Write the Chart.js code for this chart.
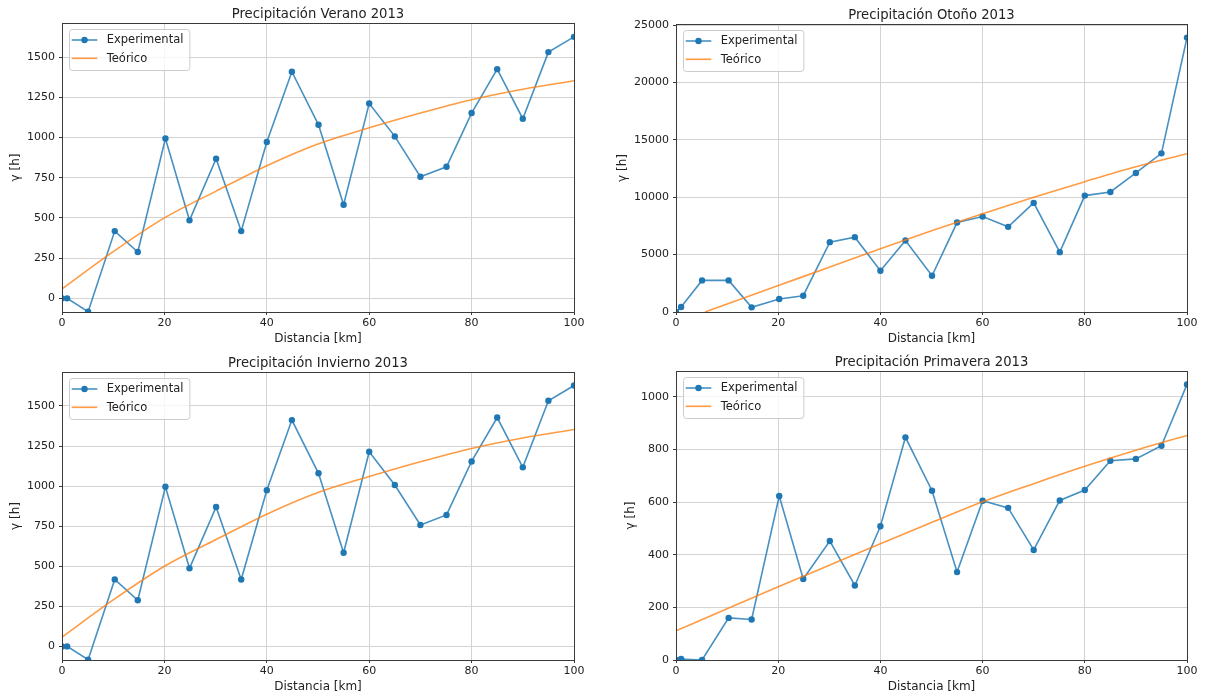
<!DOCTYPE html>
<html>
<head>
<meta charset="utf-8">
<script src="https://cdn.jsdelivr.net/npm/chart.js@4.4.0/dist/chart.umd.min.js"></script>
<style>
  html, body { margin: 0; padding: 0; background: #fff; }
  #wrap { position: relative; width: 1206px; height: 696px; }
  canvas { position: absolute; }
</style>
</head>
<body>
<div id="wrap">
  <canvas id="verano" width="603" height="348" style="left:0;top:0"></canvas>
  <canvas id="otono" width="600" height="348" style="left:606px;top:0"></canvas>
  <canvas id="invierno" width="603" height="348" style="left:0;top:348px"></canvas>
  <canvas id="primavera" width="600" height="348" style="left:606px;top:348px"></canvas>
</div>
<script>
const FONT = "'DejaVu Sans', sans-serif";
const TEXT = '#222222';
const GRID = '#d3d3d3';
const EDGE = '#3a3a3a';
const BLUE = '#1f77b4';
const BLUE_LINE = 'rgba(31,119,180,0.82)';
const ORANGE = 'rgba(255,127,14,0.78)';

// lag distances (km) of the experimental points
const distanciaKm = [0, 1, 5.1, 10.3, 14.8, 20.2, 24.9, 30.1, 35, 40, 44.9, 50.1, 55, 60, 65, 70, 75.1, 80, 85, 90, 95, 100];

const veranoExp = [0, 0, -83, 418, 288, 994, 485, 868, 418, 972, 1409, 1079, 582, 1212, 1007, 756, 818, 1152, 1425, 1117, 1531, 1626];
const inviernoExp = [0, 0, -83, 418, 288, 996, 487, 870, 417, 974, 1412, 1080, 584, 1214, 1007, 757, 820, 1154, 1428, 1117, 1533, 1628];
const otonoExp = [0, 435, 2754, 2754, 406, 1130, 1420, 6087, 6522, 3594, 6232, 3159, 7797, 8319, 7420, 9507, 5217, 10145, 10464, 12116, 13826, 23913];
const primaveraExp = [0, 4, 0, 160, 154, 623, 308, 452, 283, 508, 846, 643, 334, 605, 578, 418, 606, 646, 757, 764, 814, 1047];

// fitted model
const teoricoKm = [0, 10, 20, 30, 40, 50, 60, 70, 80, 90, 100];
const otonoTeoKm = [5.7, 10, 20, 30, 40, 50, 60, 70, 80, 90, 100];
const veranoTeo = [58, 290, 500, 665, 825, 960, 1060, 1152, 1235, 1300, 1353];
const inviernoTeo = [58, 290, 500, 665, 825, 960, 1060, 1152, 1235, 1300, 1353];
const otonoTeo = [0, 690, 2300, 3910, 5520, 7080, 8560, 10000, 11360, 12660, 13790];
const primaveraTeo = [111, 195, 278, 360, 442, 522, 601, 670, 736, 797, 853];

const xTicks = [0, 20, 40, 60, 80, 100];
const yTicksVerano = [0, 250, 500, 750, 1000, 1250, 1500];
const yTicksOtono = [0, 5000, 10000, 15000, 20000, 25000];
const yTicksPrimavera = [0, 200, 400, 600, 800, 1000];

function puntos(xs, ys) {
  return xs.map((x, i) => ({x: x, y: ys[i]}));
}

// title, frame and matplotlib-like legend inside the axes
const decor = {
  id: 'decor',
  afterDatasetsDraw(chart, args, opts) {
    const ctx = chart.ctx;
    const a = chart.chartArea;
    ctx.save();
    ctx.strokeStyle = EDGE;
    ctx.lineWidth = 1;
    ctx.strokeRect(a.left + 0.5, a.top + 0.5, a.right - a.left, a.bottom - a.top);

    ctx.fillStyle = TEXT;
    ctx.font = '13.2px ' + FONT;
    ctx.textAlign = 'center';
    ctx.textBaseline = 'alphabetic';
    ctx.fillText(opts.titulo, (a.left + a.right) / 2, a.top - 5.5);

    ctx.font = '11.5px ' + FONT;
    const tw = ctx.measureText('Experimental').width;
    const bx = a.left + 7, by = a.top + 6;
    const bw = 37.7 + tw + 6, bh = 41;
    ctx.beginPath();
    ctx.roundRect(bx + 0.5, by + 0.5, bw, bh, 3);
    ctx.fillStyle = 'rgba(255,255,255,0.8)';
    ctx.fill();
    ctx.strokeStyle = '#cccccc';
    ctx.stroke();

    const rows = [
      {txt: 'Experimental', color: BLUE_LINE, marker: true, y: by + 11},
      {txt: 'Teórico', color: ORANGE, marker: false, y: by + 29.3}
    ];
    rows.forEach(r => {
      ctx.strokeStyle = r.color;
      ctx.lineWidth = 1.6;
      ctx.beginPath();
      ctx.moveTo(bx + 2.7, r.y);
      ctx.lineTo(bx + 28.3, r.y);
      ctx.stroke();
      if (r.marker) {
        ctx.fillStyle = BLUE;
        ctx.beginPath();
        ctx.arc(bx + 15.5, r.y, 3.2, 0, Math.PI * 2);
        ctx.fill();
      }
      ctx.fillStyle = TEXT;
      ctx.textAlign = 'left';
      ctx.textBaseline = 'middle';
      ctx.fillText(r.txt, bx + 37.7, r.y + 0.5);
    });
    ctx.restore();
  }
};

function dibujar(id, cfg) {
  const tickFont = {family: FONT, size: 11};
  const labelFont = {family: FONT, size: 12};
  new Chart(document.getElementById(id), {
    type: 'line',
    data: {
      datasets: [
        {
          label: 'Experimental',
          data: puntos(distanciaKm, cfg.exp),
          borderColor: BLUE_LINE,
          backgroundColor: BLUE,
          pointBackgroundColor: BLUE,
          pointBorderColor: BLUE,
          pointBorderWidth: 0,
          pointRadius: 3.2,
          pointHoverRadius: 3.2,
          borderWidth: 1.6,
          tension: 0,
          order: 1,
          clip: 0
        },
        {
          label: 'Teórico',
          data: puntos(cfg.teoKm, cfg.teo),
          borderColor: ORANGE,
          borderWidth: 1.6,
          pointRadius: 0,
          cubicInterpolationMode: 'monotone',
          order: 0,
          clip: 0
        }
      ]
    },
    options: {
      responsive: false,
      animation: false,
      events: [],
      layout: {padding: {top: cfg.top, right: cfg.right, left: 0, bottom: 0}},
      plugins: {
        legend: {display: false},
        tooltip: {enabled: false},
        decor: {titulo: cfg.titulo}
      },
      scales: {
        x: {
          type: 'linear',
          min: 0,
          max: 100,
          afterBuildTicks: s => { s.ticks = xTicks.map(v => ({value: v})); },
          afterFit: s => { s.height = 36; },
          grid: {color: GRID, lineWidth: 1, tickColor: EDGE, tickLength: 3},
          border: {color: EDGE, width: 1},
          ticks: {font: tickFont, color: TEXT, padding: 2, maxRotation: 0, callback: v => String(v)},
          title: {display: true, text: 'Distancia [km]', font: labelFont, color: TEXT, padding: {top: 0, bottom: 2}}
        },
        y: {
          type: 'linear',
          min: cfg.yMin,
          max: cfg.yMax,
          afterBuildTicks: s => { s.ticks = cfg.yTicks.map(v => ({value: v})); },
          afterFit: s => { s.width = cfg.yWidth; },
          grid: {color: GRID, lineWidth: 1, tickColor: EDGE, tickLength: 3},
          border: {color: EDGE, width: 1},
          ticks: {font: tickFont, color: TEXT, padding: 4, callback: v => String(v)},
          title: {display: true, text: 'γ [h]', font: labelFont, color: TEXT, padding: {top: cfg.yTitlePad, bottom: 0}}
        }
      }
    },
    plugins: [decor]
  });
}

dibujar('verano', {
  titulo: 'Precipitación Verano 2013', exp: veranoExp, teoKm: teoricoKm, teo: veranoTeo,
  yMin: -85, yMax: 1712, yTicks: yTicksVerano, yWidth: 62, yTitlePad: 9, top: 23, right: 29
});
dibujar('otono', {
  titulo: 'Precipitación Otoño 2013', exp: otonoExp, teoKm: otonoTeoKm, teo: otonoTeo,
  yMin: 0, yMax: 25100, yTicks: yTicksOtono, yWidth: 70, yTitlePad: 10, top: 24, right: 19
});
dibujar('invierno', {
  titulo: 'Precipitación Invierno 2013', exp: inviernoExp, teoKm: teoricoKm, teo: inviernoTeo,
  yMin: -85, yMax: 1712, yTicks: yTicksVerano, yWidth: 62, yTitlePad: 9, top: 24, right: 29
});
dibujar('primavera', {
  titulo: 'Precipitación Primavera 2013', exp: primaveraExp, teoKm: teoricoKm, teo: primaveraTeo,
  yMin: 0, yMax: 1098, yTicks: yTicksPrimavera, yWidth: 70, yTitlePad: 18, top: 23, right: 19
});
</script>
</body>
</html>
